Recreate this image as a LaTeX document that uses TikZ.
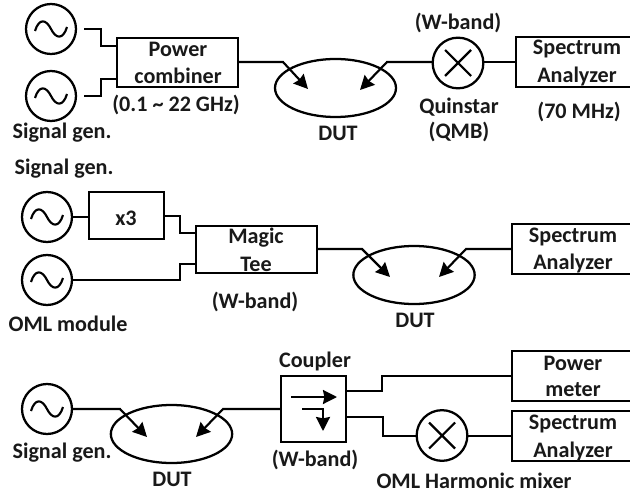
\documentclass[tikz,border=0pt]{standalone}
\usepackage{fontspec}
\setmainfont{Carlito}
\usetikzlibrary{arrows.meta,shapes.geometric}
\tikzset{
  base/.style={x=0.75pt,y=-0.75pt,line width=1.7pt,line join=miter},
  srcnode/.style={draw,circle,minimum size=37.5pt,inner sep=0pt,outer sep=0pt},
  mixnode/.style={draw,circle,minimum size=38pt,inner sep=0pt,outer sep=0pt},
  dutnode/.style={draw,ellipse,minimum width=91pt,minimum height=43.5pt,inner sep=0pt,outer sep=0pt},
  bx/.style 2 args={draw,rectangle,inner sep=0pt,outer sep=0pt,minimum width=#1*0.75pt,minimum height=#2*0.75pt},
  lab/.style={inner sep=0pt,outer sep=0pt,font=\fontsize{16.6}{19}\selectfont\bfseries,text=black!90},
  wire/.style={draw,line width=1.6pt},
  probe/.style={draw,line width=1.6pt,-{Stealth[length=10.5pt,width=10.5pt,inset=1pt]}},
  sinewave/.pic={\draw[line width=1.6pt] (-16,2) .. controls (-12,-11) and (-5,-10) .. (0,0) .. controls (5,10) and (12,11) .. (16,-2);},
  crosswave/.pic={\draw[line width=1.6pt] (-13,-13) -- (13,13) (-13,13) -- (13,-13);}
}
\begin{document}
\begin{tikzpicture}[base]
\path[use as bounding box] (0,0) rectangle (630,495);
\clip (0,0) rectangle (630,495);
\fill[white] (0,0) rectangle (630,495);
% row 1
\node[srcnode] (g1) at (51,29) {};
\node[srcnode] (g2) at (51,96) {};
\pic at (g1) {sinewave};
\pic at (g2) {sinewave};
\node[bx={121}{49}] (comb) at (177.5,62.5) {};
\node[dutnode,minimum width=90.75pt] (dut1) at (335.5,88) {};
\node[mixnode] (mix1) at (458,63) {};
\pic at (mix1) {crosswave};
\node[bx={200}{50}] (sa1) at (616,62) {};
\coordinate (g1o) at (84,29);
\coordinate (g2o) at (84,96);
\coordinate (t1a) at (308,89);
\coordinate (t1b) at (360,90);
\draw[wire] (g1o) -- (101,29) |- (comb.west |- 0,46);
\draw[wire] (g2o) -- (101,96) |- (comb.west |- 0,79);
\draw[probe] (comb.east |- 0,62) -- (283,62) -- (t1a);
\draw[probe] (mix1.west |- 0,62) -- (387,62) -- (t1b);
\draw[wire] (mix1.east |- 0,62) -- (sa1.west |- 0,62);
\node[lab] (l1) at (178,49) {Power};
\node[lab] (l2) at (178,76) {combiner};
\node[lab] (l3) at (176,105) {(0.1 \char"7E{} 22 GHz)};
\node[lab] (l4) at (62,133) {Signal gen.};
\node[lab] (l5) at (338,133) {DUT};
\node[lab] (l6) at (458,23) {(W-band)};
\node[lab] (l7) at (459,107) {Quinstar};
\node[lab] (l8) at (459,132) {(QMB)};
\node[lab] (l9) at (577,49) {Spectrum};
\node[lab] (l10) at (577,76) {Analyzer};
\node[lab] (l11) at (579,112) {(70 MHz)};
% row 2
\node[lab] (l12) at (64,169) {Signal gen.};
\node[srcnode] (g3) at (47,217) {};
\node[srcnode] (g4) at (47,280) {};
\pic at (g3) {sinewave};
\pic at (g4) {sinewave};
\node[bx={75}{47}] (x3) at (126.5,215.5) {};
\node[bx={121}{47}] (tee) at (256.5,249.5) {};
\node[dutnode] (dut2) at (414,275) {};
\node[bx={200}{50}] (sa2) at (612,249) {};
\coordinate (t2a) at (390,277);
\coordinate (t2b) at (439,277);
\draw[wire] (g3.east |- 0,217) -- (x3.west |- 0,217);
\draw[wire] (x3.east |- 0,216) -- (180,216) |- (tee.west |- 0,233);
\draw[wire] (g4.east |- 0,280) -- (180,280) |- (tee.west |- 0,264);
\draw[probe] (tee.east |- 0,249) -- (362,249) -- (t2a);
\draw[probe] (sa2.west |- 0,249) -- (466,249) -- (t2b);
\node[lab] (l13) at (126,218) {x3};
\node[lab] (l14) at (256,238) {Magic};
\node[lab] (l15) at (256,264) {Tee};
\node[lab] (l16) at (255,302) {(W-band)};
\node[lab] (l17) at (68,324) {OML module};
\node[lab] (l18) at (415,320) {DUT};
\node[lab] (l19) at (573,237) {Spectrum};
\node[lab] (l20) at (573,263) {Analyzer};
% row 3
\node[srcnode] (g5) at (47,409) {};
\pic at (g5) {sinewave};
\node[dutnode] (dut3) at (171.5,434) {};
\node[bx={65}{66}] (coup) at (313.5,409) {};
\node[mixnode] (mix2) at (442,435.5) {};
\pic at (mix2) {crosswave};
\node[bx={200}{50}] (pm) at (612,376) {};
\node[bx={200}{50}] (sa3) at (612,436) {};
\coordinate (t3a) at (147,437);
\coordinate (t3b) at (196,437);
\coordinate (c1a) at (291,397);
\coordinate (c1b) at (337,397);
\coordinate (c2a) at (302,409);
\coordinate (c2b) at (323,431);
\draw[probe] (g5.east |- 0,409) -- (120,409) -- (t3a);
\draw[probe] (coup.west |- 0,409) -- (223,409) -- (t3b);
\draw[probe] (c1a) -- (c1b);
\draw[probe] (c2a) -| (c2b);
\draw[wire] (coup.east |- 0,391) -- (382,391) |- (pm.west |- 0,376);
\draw[wire] (coup.east |- 0,417) -- (383,417) |- (mix2.west |- 0,436);
\draw[wire] (mix2.east |- 0,436) -- (sa3.west |- 0,436);
\node[lab] (l21) at (62,453) {Signal gen.};
\node[lab] (l22) at (172,479) {DUT};
\node[lab] (l23) at (315,361) {Coupler};
\node[lab] (l24) at (315,460) {(W-band)};
\node[lab] (l25) at (573,363) {Power};
\node[lab] (l26) at (573,390) {meter};
\node[lab] (l27) at (573,424) {Spectrum};
\node[lab] (l28) at (573,451) {Analyzer};
\node[lab] (l29) at (474,481) {OML Harmonic mixer};
\end{tikzpicture}
\end{document}
